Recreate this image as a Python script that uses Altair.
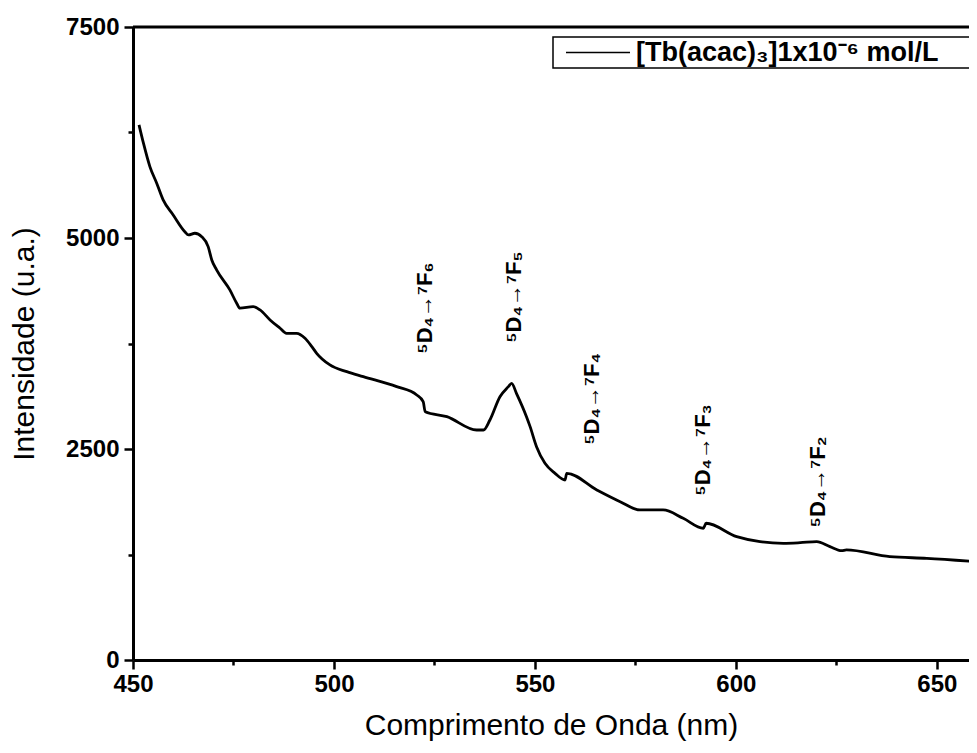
import altair as alt
import pandas as pd

# ---- data ----
wavelength = [451.5, 452.6, 454.2, 455.9, 457.5, 460.0, 462.9, 463.8, 465.4, 467.1,
              468.7, 469.6, 470.8, 474.1, 475.8, 476.6, 479.9, 481.6, 484.1, 486.6,
              488.2, 490.7, 492.8, 494.5, 495.7, 499.0, 503.2, 507.3, 515.6, 520.6,
              522.2, 522.7, 528.1, 535.5, 537.2, 538.8, 541.3, 543.4, 544.2, 545.4,
              547.9, 548.8, 550.4, 552.5, 555.0, 557.5, 557.9, 565.4, 571.2, 576.1,
              581.9, 586.9, 591.9, 592.6, 600.2, 606.0, 611.8, 616.0, 620.1, 623.4,
              626.3, 627.5, 638.3, 647.5, 659.9]
intensity = [6340, 6123, 5846, 5649, 5451, 5273, 5075, 5036, 5056, 5016,
             4898, 4740, 4622, 4385, 4227, 4168, 4187, 4148, 4029, 3931,
             3871, 3871, 3812, 3713, 3634, 3496, 3416, 3357, 3239, 3140,
             3061, 2942, 2883, 2725, 2725, 2844, 3120, 3239, 3278, 3160,
             2883, 2765, 2528, 2331, 2212, 2133, 2212, 2015, 1876, 1778,
             1778, 1679, 1561, 1620, 1461, 1402, 1383, 1390, 1402, 1343,
             1296, 1304, 1224, 1205, 1165]
series_name = "[Tb(acac)\u2083]1x10\u207b\u2076 mol/L"

ann_labels = ["\u2075D\u2084\u2192\u2077F\u2086", "\u2075D\u2084\u2192\u2077F\u2085",
              "\u2075D\u2084\u2192\u2077F\u2084", "\u2075D\u2084\u2192\u2077F\u2083",
              "\u2075D\u2084\u2192\u2077F\u2082"]
ann_x = [522.6, 544.8, 564.2, 591.8, 620.4]
ann_y = [4170, 4300, 3093, 2489, 2110]

x_ticks = [450, 475, 500, 525, 550, 575, 600, 625, 650]
y_ticks = [0, 1250, 2500, 3750, 5000, 6250, 7500]

df = pd.DataFrame({"wl": wavelength, "I": intensity})
ann = pd.DataFrame({"label": ann_labels, "wl": ann_x, "I": ann_y})
leg = pd.DataFrame({"serie": [series_name]})

W, H = 836, 633
FONT = "Liberation Sans"

xscale = alt.Scale(domain=[450, 658], nice=False, zero=False)
yscale = alt.Scale(domain=[0, 7500], nice=False)

xaxis = alt.Axis(values=x_ticks, title="Comprimento de Onda (nm)",
                 labelExpr="datum.value % 50 === 0 ? datum.label : ''",
                 format="d", labelFlush=False,
                 tickSize={"condition": {"test": "datum.value % 50 === 0", "value": 9}, "value": 5},
                 labelPadding=3, titlePadding=14)
yaxis = alt.Axis(values=y_ticks, title="Intensidade (u.a.)",
                 labelExpr="datum.value % 2500 === 0 ? datum.label : ''",
                 format="d", labelFlush=False,
                 tickSize={"condition": {"test": "datum.value % 2500 === 0", "value": 9}, "value": 5},
                 labelPadding=5, titlePadding=26)

line = alt.Chart(df).mark_line(strokeWidth=2.8, color="black", interpolate="monotone").encode(
    x=alt.X("wl:Q", scale=xscale, axis=xaxis),
    y=alt.Y("I:Q", scale=yscale, axis=yaxis),
)

top = alt.Chart(pd.DataFrame({"v": [7500]})).mark_rule(color="black", strokeWidth=3).encode(
    y=alt.Y("v:Q", scale=yscale)
)

text = alt.Chart(ann).mark_text(angle=270, align="center", baseline="middle",
                                font=FONT, fontSize=22, fontWeight="bold", color="black").encode(
    x=alt.X("wl:Q", scale=xscale),
    y=alt.Y("I:Q", scale=yscale),
    text="label:N",
)

# legend (drawn as a framed box, like the original)
leg_box = alt.Chart(leg).mark_rect(fill="white", stroke="black", strokeWidth=1.5).encode(
    x=alt.value(420), x2=alt.value(W + 20), y=alt.value(10), y2=alt.value(41)
)
leg_line = alt.Chart(leg).mark_rule(color="black", strokeWidth=1.6).encode(
    x=alt.value(433), x2=alt.value(497), y=alt.value(25.5)
)
leg_text = alt.Chart(leg).mark_text(align="left", baseline="middle", font=FONT,
                                    fontSize=27, fontWeight="bold", color="black").encode(
    x=alt.value(503), y=alt.value(26), text="serie:N"
)

chart = alt.layer(line, top, text, leg_box, leg_line, leg_text).properties(
    width=W, height=H,
    autosize=alt.AutoSizeParams(type="none"),
    padding={"left": 125, "top": 19, "right": 0, "bottom": 93},
    background="white",
).configure_view(stroke=None).configure_axis(
    domainWidth=3, domainColor="black", tickColor="black", tickWidth=2.5,
    labelFont=FONT, labelFontWeight="bold", labelFontSize=24, labelColor="black",
    titleFont=FONT, titleFontWeight="normal", titleFontSize=30, titleColor="black",
    grid=False,
)

chart.save("out.html", embed_options={"renderer": "svg", "actions": False})
